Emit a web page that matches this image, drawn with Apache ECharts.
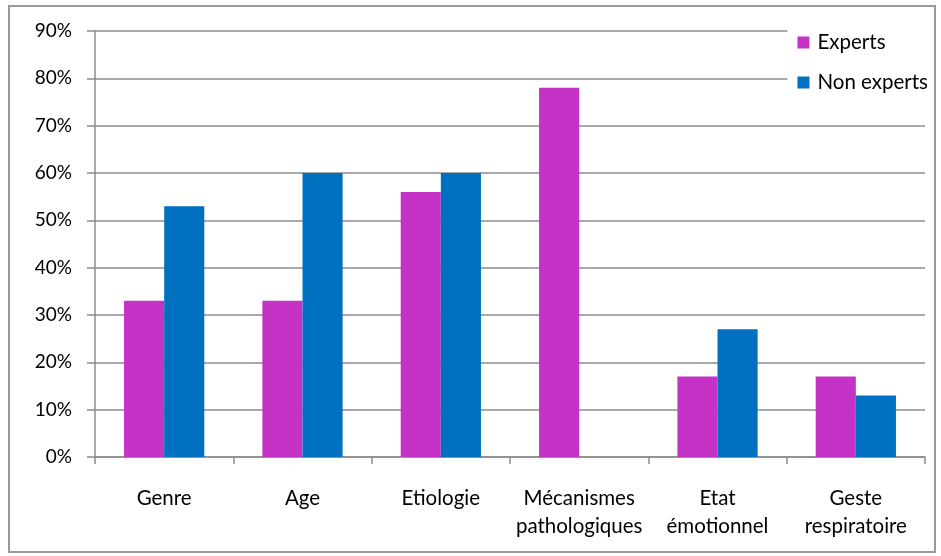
<!DOCTYPE html>
<html><head><meta charset="utf-8">
<script src="https://cdn.jsdelivr.net/npm/echarts@6/dist/echarts.min.js"></script>
<style>html,body{margin:0;padding:0;background:#fff}#c{width:941px;height:556px;position:relative}
#b{position:absolute;left:8px;top:5px;width:928px;height:548px;border:2px solid #9a9a9a;box-sizing:border-box;pointer-events:none}</style>
</head><body><div id="c"></div><div id="b"></div>
<script>
const categories = ['Genre','Age','Etiologie','Mécanismes\npathologiques','Etat\némotionnel','Geste\nrespiratoire'];
const experts = [33,33,56,78,17,17];
const nonExperts = [53,60,60,0,27,13];
const yTicks = [0,10,20,30,40,50,60,70,80,90];
const chart = echarts.init(document.getElementById('c'));
const font = 'Lato, "Open Sans", sans-serif';
chart.setOption({
  animation:false,
  grid:{left:95,right:16,top:31,bottom:99,containLabel:false},
  legend:{
    orient:'vertical',right:9,top:26,itemWidth:12,itemHeight:12,itemGap:19,
    backgroundColor:'#fff',padding:[6,4,6,10],z:10,
    icon:'rect',
    textStyle:{fontFamily:font,fontSize:20.5,color:'#000',padding:[0,0,0,3]},
    data:['Experts','Non experts']
  },
  xAxis:{
    type:'category',data:categories,
    axisLine:{lineStyle:{color:'#8c8c8c',width:1.5}},
    axisTick:{show:true,length:7,lineStyle:{color:'#8c8c8c',width:1.5}},
    axisLabel:{fontFamily:font,fontSize:20.5,color:'#000',margin:27,lineHeight:28,interval:0}
  },
  yAxis:{
    type:'value',min:0,max:90,interval:10,
    axisLine:{show:true,lineStyle:{color:'#8c8c8c',width:1.5}},
    axisTick:{show:true,length:8,lineStyle:{color:'#8c8c8c',width:1.5}},
    splitLine:{lineStyle:{color:'#8c8c8c',width:1.5}},
    axisLabel:{fontFamily:font,fontSize:19,color:'#000',margin:23,formatter:v=>yTicks.includes(v)?v+'%':''}
  },
  series:[
    {name:'Experts',type:'bar',data:experts,barGap:'0%',barCategoryGap:'42%',itemStyle:{color:'#C433C6'}},
    {name:'Non experts',type:'bar',data:nonExperts,itemStyle:{color:'#0070C0'}}
  ]
});
</script></body></html>
